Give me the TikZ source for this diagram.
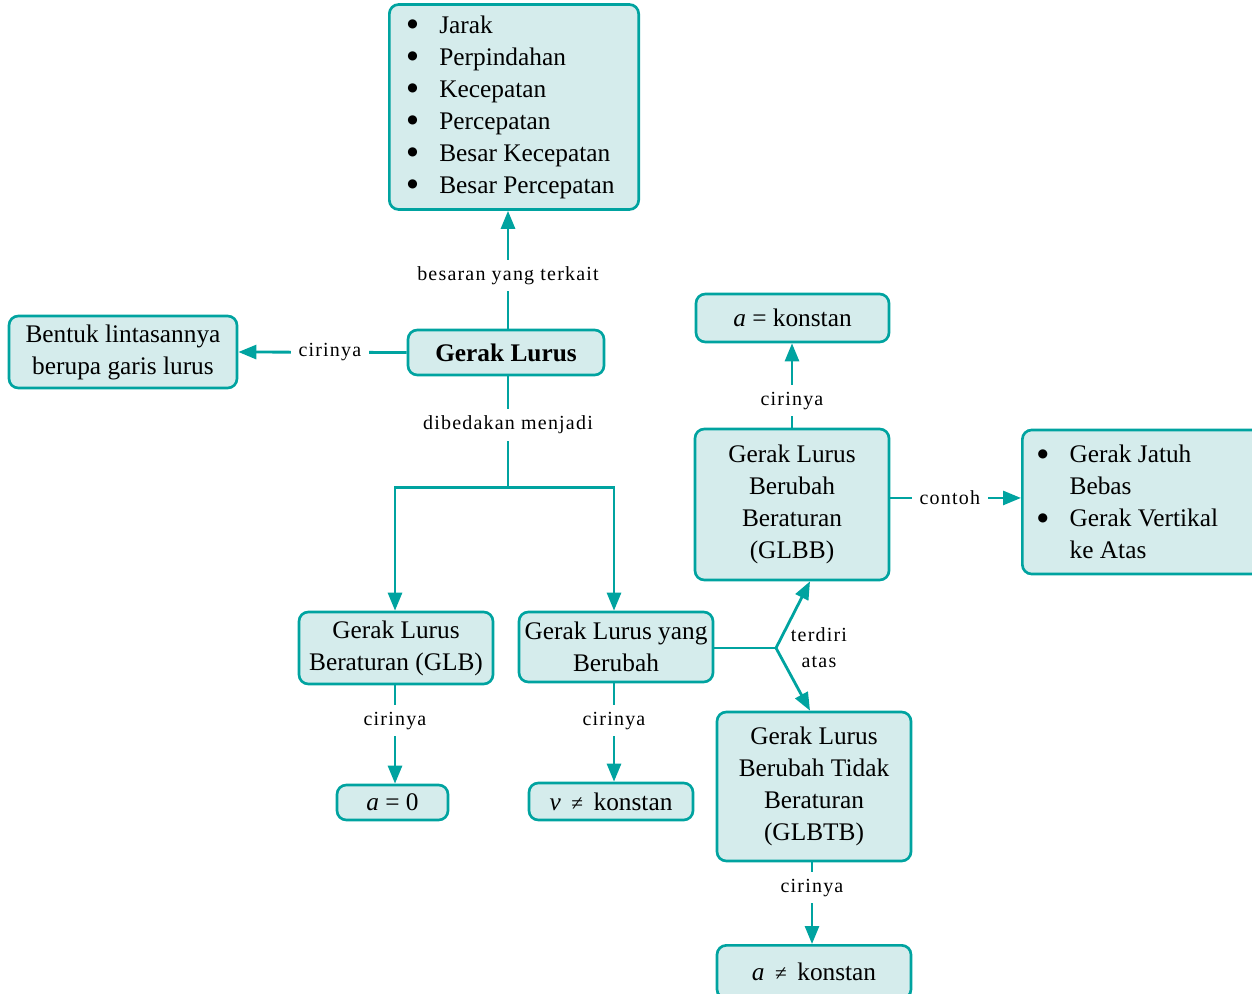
\documentclass[tikz,border=0pt]{standalone}
\usepackage{fontspec}
\setmainfont{Liberation Serif}
\newfontfamily\lblfont[LetterSpace=6]{Liberation Serif}
\newfontfamily\dejavu{DejaVu Sans}
\usetikzlibrary{arrows.meta}
\definecolor{tl}{RGB}{0,163,160}
\definecolor{tlfill}{RGB}{213,236,236}
\newcommand\bul{\makebox[24pt][l]{\raisebox{4pt}{\dejavu\fontsize{9}{9}\selectfont ●}}}
\newcommand\neqs{{\fontsize{16}{16}\selectfont ≠}}
\begin{document}
\begin{tikzpicture}[x=0.75pt,y=-0.75pt,
  box/.style={draw=tl,fill=tlfill,line width=2pt,rounded corners=7pt,inner sep=2pt,align=center,
    font=\fontsize{19}{24}\selectfont},
  listbox/.style={box,align=left,execute at begin node={\spaceskip=0pt\xspaceskip=0pt}},
  lbl/.style={fill=white,inner xsep=6pt,inner ysep=5pt,font=\fontsize{15}{19.5}\selectfont\lblfont},
  lblfree/.style={inner sep=1pt,align=center,font=\fontsize{15}{19.5}\selectfont\lblfont},
  conn/.style={draw=tl,line width=2.1pt},
  arr/.style={conn,-{Triangle[length=13.5pt,width=10.5pt]}},
]
\useasboundingbox (0,0) rectangle (1252,994);

% boxes
\node[listbox,anchor=west,inner xsep=13.5pt,text width=160pt,minimum height=153.75pt] (qty) at (388,107)
  {\bul Jarak\\\bul Perpindahan\\\bul Kecepatan\\\bul Percepatan\\\bul Besar Kecepatan\\\bul Besar Percepatan};
\node[box,minimum width=147pt,minimum height=33.75pt] (gl) at (506,352.5) {\textbf{Gerak Lurus}};
\node[box,minimum width=171pt,minimum height=54pt] (bentuk) at (123,352) {Bentuk lintasannya\\berupa garis lurus};
\node[box,minimum width=144.75pt,minimum height=36pt] (ak) at (792.5,318) {\textit{a} = konstan};
\node[box,minimum width=145.5pt,minimum height=113.25pt] (glbb) at (792,504.5) {Gerak Lurus\\Berubah\\Beraturan\\(GLBB)};
\node[listbox,anchor=west,inner xsep=11.5pt,text width=170pt,minimum height=108pt] (ex) at (1021,502)
  {\bul Gerak Jatuh\\\hspace*{24pt}Bebas\\\bul Gerak Vertikal\\\hspace*{24pt}ke Atas};
\node[box,minimum width=145.5pt,minimum height=54pt] (glb) at (396,648) {Gerak Lurus\\Beraturan (GLB)};
\node[box,minimum width=145.5pt,minimum height=52.5pt] (glyb) at (616,647) {Gerak Lurus yang\\Berubah};
\node[box,minimum width=83.25pt,minimum height=26.25pt] (a0) at (392.5,802.5) {\textit{a} = 0};
\node[box,minimum width=123pt,minimum height=27.75pt] (vk) at (611,801.5) {\textit{v}\,~\neqs~\,konstan};
\node[box,minimum width=145.5pt,minimum height=40pt] (an) at (814,972) {\textit{a}\,~\neqs~\,konstan};
\node[box,minimum width=145.5pt,minimum height=111.75pt] (glbtb) at (814,786.5) {Gerak Lurus\\Berubah Tidak\\Beraturan\\(GLBTB)};

% connectors
\draw[arr] ([xshift=1.5pt]gl.north) -- node[lbl,pos=0.45]{besaran yang terkait} ([xshift=1.5pt]gl.north |- qty.south);
\draw[arr] (gl.west) -- node[lbl,pos=0.456]{cirinya} (bentuk.east);
\draw[conn] ([xshift=1.5pt]gl.south) -- node[lbl,pos=0.44]{dibedakan menjadi} ++(0,111) coordinate (split);
\draw[arr] (split) -| ([xshift=-0.75pt]glb.north);
\draw[arr] (split) -| ([xshift=-1.5pt]glyb.north);
\draw[arr] ([xshift=-0.75pt]glb.south) -- node[lbl,pos=0.36]{cirinya} ([xshift=-0.75pt]glb.south |- a0.north);
\draw[arr] ([xshift=-1.5pt]glyb.south) -- node[lbl,pos=0.38]{cirinya} ([xshift=-1.5pt]glyb.south |- vk.north);
\coordinate (jn) at (776,648);
\draw[conn] (glyb.east |- jn) -- (jn);
\draw[arr] (jn) -- ([xshift=13.5pt]glbb.south);
\draw[arr] (jn) -- ([xshift=-3pt]glbtb.north);
\node[lblfree,anchor=west] (terdiri) at ([xshift=10pt]jn) {terdiri\\atas};
\draw[arr] (glbb.north) -- node[lbl,pos=0.32]{cirinya} (glbb.north |- ak.south);
\draw[arr] ([yshift=4.9pt]glbb.east) -- node[lbl,pos=0.455]{contoh} ([yshift=4.9pt]glbb.east -| ex.west);
\draw[arr] ([xshift=-1.5pt]glbtb.south) -- node[lbl,pos=0.31]{cirinya} ([xshift=-1.5pt]glbtb.south |- an.north);
\end{tikzpicture}
\end{document}
